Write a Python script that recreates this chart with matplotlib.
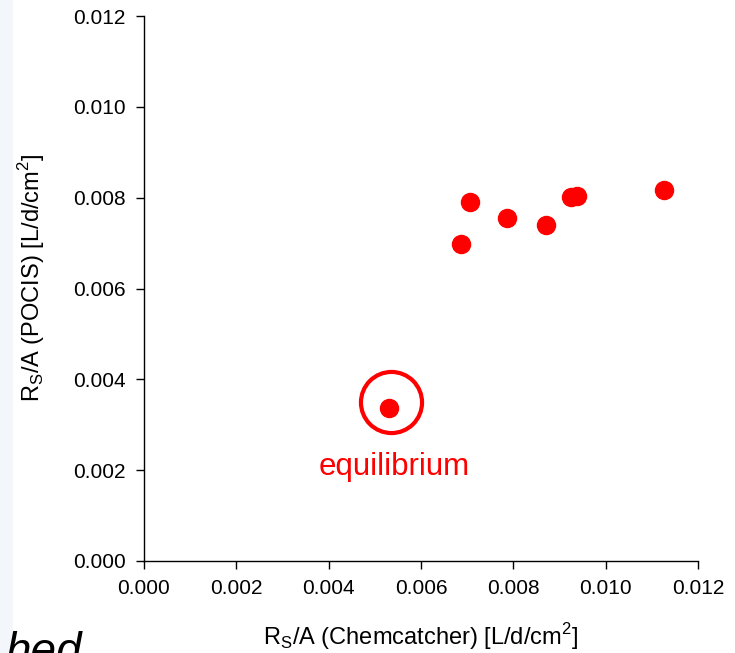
import matplotlib
matplotlib.use("Agg")
import matplotlib.pyplot as plt
from matplotlib.patches import Rectangle

plt.rcParams['font.family'] = ['Liberation Sans', 'DejaVu Sans']

# Rs/A values, Chemcatcher vs POCIS
chemcatcher = [0.00687, 0.00706, 0.00786, 0.00871, 0.00925, 0.00938, 0.01126]
pocis = [0.00698, 0.00790, 0.00755, 0.00740, 0.00801, 0.00804, 0.00817]
eq_x = [0.00531]
eq_y = [0.00336]
eq_label = "equilibrium"
ticks = [0.000, 0.002, 0.004, 0.006, 0.008, 0.010, 0.012]
tick_labels = ["0.000", "0.002", "0.004", "0.006", "0.008", "0.010", "0.012"]

red = "#ff0000"

fig = plt.figure(figsize=(7.35, 6.53), dpi=100)
# light strip on the left edge
fig.patches.append(Rectangle((0, 0), 13 / 735, 1, transform=fig.transFigure,
                             facecolor="#f3f7fc", edgecolor="none", zorder=0))

ax = fig.add_axes([144 / 735, 1 - 561 / 653, (698 - 144) / 735, (561 - 16) / 653])
ax.plot(chemcatcher, pocis, "o", color=red, markersize=13, clip_on=False)
ax.plot(eq_x, eq_y, "o", color=red, markersize=13)
# ring round the equilibrium point
ax.plot([0.00536], [0.00349], "o", markerfacecolor="none", markeredgecolor=red,
        markersize=44, markeredgewidth=3)
ax.text(0.00543, 0.00189, eq_label, color=red, fontsize=22.5, ha="center", va="baseline")

ax.set_xlim(0, 0.012)
ax.set_ylim(0, 0.012)
ax.set_xticks(ticks)
ax.set_xticklabels(tick_labels)
ax.set_yticks(ticks)
ax.set_yticklabels(tick_labels)
ax.tick_params(direction="out", length=6, width=1, labelsize=15, pad=7)
for side in ["top", "right"]:
    ax.spines[side].set_visible(False)
for side in ["left", "bottom"]:
    ax.spines[side].set_linewidth(1)

ax.set_xlabel(r"R$_\mathregular{S}$/A (Chemcatcher) [L/d/cm$^\mathregular{2}$]", fontsize=17)
ax.set_ylabel(r"R$_\mathregular{S}$/A (POCIS) [L/d/cm$^\mathregular{2}$]", fontsize=17)
ax.xaxis.set_label_coords(0.5, -0.11)
ax.yaxis.set_label_coords(-0.175, 0.52)

# cut-off word from the slide at bottom left
fig.text(82 / 735, 1 - 631 / 653, "hed", fontsize=33, style="italic",
         ha="right", va="top")

fig.savefig("out.png", dpi=100)
